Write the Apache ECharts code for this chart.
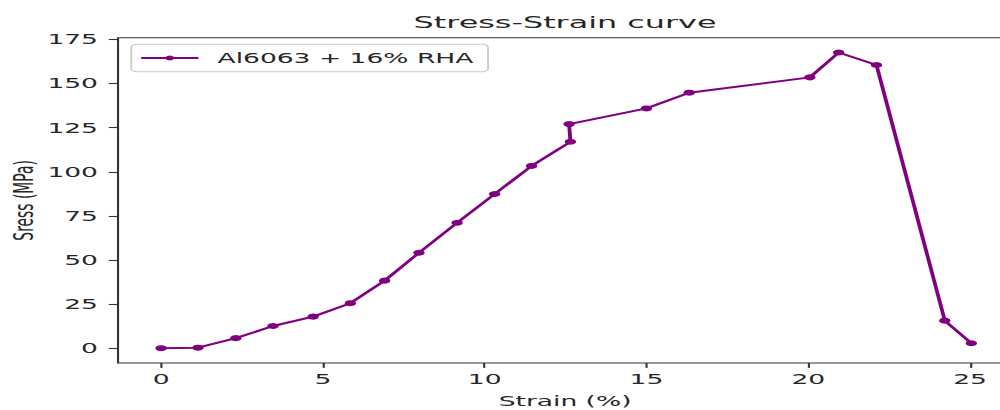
<!DOCTYPE html>
<html>
<head>
<meta charset="utf-8">
<script src="https://cdn.jsdelivr.net/npm/echarts@6/dist/echarts.min.js"></script>
<style>
  html, body { margin: 0; padding: 0; background: #fff; overflow: hidden; }
  #wrap { width: 1000px; height: 410px; overflow: hidden; position: relative; }
  #chart { width: 523.56px; height: 410px; transform: scaleX(1.91); transform-origin: 0 0; }
</style>
</head>
<body>
<div id="wrap"><div id="chart"></div></div>
<script>
// Data
const strain = [0, 1.14, 2.31, 3.46, 4.70, 5.85, 6.91, 7.97, 9.15, 10.31, 11.45, 12.65, 12.61, 15.0, 16.32, 20.05, 20.94, 22.11, 24.22, 25.04];
const stress = [0, 0.3, 5.7, 12.6, 17.9, 25.5, 38.3, 54.1, 71.1, 87.4, 103.3, 117.0, 127.0, 135.9, 144.8, 153.5, 167.6, 160.5, 15.6, 2.8];
const xTicks = [0, 5, 10, 15, 20, 25];
const yTicks = [0, 25, 50, 75, 100, 125, 150, 175];
const seriesName = 'Al6063 + 16% RHA';
const titleText = 'Stress-Strain curve';
const xLabel = 'Strain (%)';
const yLabel = 'Sress (MPa)';

const FONT = 'DejaVu Sans';
const TXT = '#262626';
const AX = '#333333';

const chart = echarts.init(document.getElementById('chart'), null, { renderer: 'svg', width: 523.56, height: 410 });

const gridLeft = 61.8, gridTop = 37.7, gridW = 468.1, gridH = 325.3;

chart.setOption({
  animation: false,
  backgroundColor: '#ffffff',
  title: {
    text: titleText,
    left: gridLeft + gridW / 2,
    textAlign: 'center',
    top: 14,
    padding: 0,
    textStyle: { fontFamily: FONT, fontSize: 16.67, fontWeight: 'normal', color: TXT }
  },
  legend: {
    left: 68.7,
    top: 44.3,
    orient: 'vertical',
    padding: [6.7, 7.7, 6.7, 4.2],
    itemWidth: 30,
    itemHeight: 6,
    borderColor: '#cccccc',
    borderWidth: 1,
    borderRadius: 3,
    backgroundColor: '#ffffff',
    textStyle: { fontFamily: FONT, fontSize: 13.89, color: TXT, padding: [0, 0, 0, 5] },
    data: [seriesName]
  },
  grid: {
    left: gridLeft, top: gridTop, width: gridW, height: gridH,
    containLabel: false,
    outerBoundsMode: 'none',
    show: true, borderColor: AX, borderWidth: 1.1, backgroundColor: 'transparent'
  },
  xAxis: {
    type: 'value',
    min: -1.33, max: 26.3,
    name: xLabel,
    nameLocation: 'middle',
    nameGap: 31,
    nameMoveOverlap: false,
    nameTextStyle: { fontFamily: FONT, fontSize: 13.89, color: TXT },
    axisLine: { show: false, onZero: false },
    axisTick: { show: true, inside: false, length: 4.86, lineStyle: { color: AX, width: 1.1 }, customValues: xTicks },
    axisLabel: { show: true, margin: 9.5, fontFamily: FONT, fontSize: 13.89, color: TXT, customValues: xTicks },
    splitLine: { show: false }
  },
  yAxis: {
    type: 'value',
    min: -8.38, max: 175.98,
    name: yLabel,
    nameLocation: 'middle',
    nameGap: 42.7,
    nameRotate: 90,
    nameMoveOverlap: false,
    nameTextStyle: { fontFamily: FONT, fontSize: 13.89, color: TXT },
    axisLine: { show: false, onZero: false },
    axisTick: { show: true, inside: false, length: 4.86, lineStyle: { color: AX, width: 1.1 }, customValues: yTicks },
    axisLabel: { show: true, margin: 10.5, fontFamily: FONT, fontSize: 13.89, color: TXT, customValues: yTicks },
    splitLine: { show: false }
  },
  series: [{
    name: seriesName,
    type: 'line',
    data: strain.map((x, i) => [x, stress[i]]),
    symbol: 'circle',
    symbolSize: 6,
    showAllSymbol: true,
    lineStyle: { color: '#800080', width: 2 },
    itemStyle: { color: '#800080' },
    clip: false
  }]
});
</script>
</body>
</html>
